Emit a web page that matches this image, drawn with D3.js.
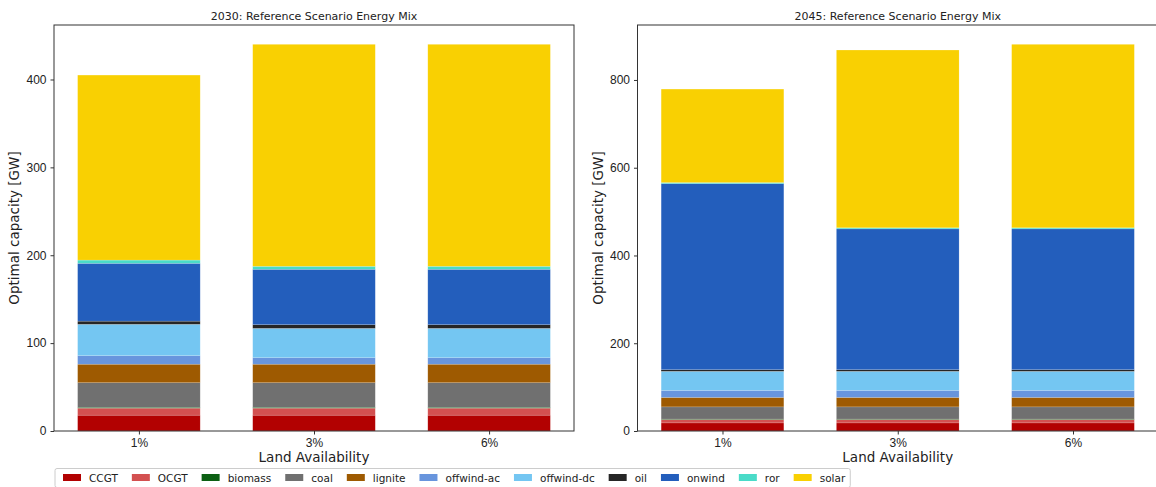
<!DOCTYPE html>
<html>
<head>
<meta charset="utf-8">
<script src="https://cdn.jsdelivr.net/npm/d3@7"></script>
<style>
  body { margin: 0; background: #fff; }
  svg { font-family: "DejaVu Sans", sans-serif; display: block; }
  .tick text { font-size: 12px; fill: #222; }
  .tick line, .domain { stroke: #333; }
</style>
</head>
<body>
<script>
// Land availability scenarios (x categories)
var scenarios = ["1%", "3%", "6%"];

// Carriers, bottom to top of each stack
var carriers = ["CCGT", "OCGT", "biomass", "coal", "lignite", "offwind-ac", "offwind-dc", "oil", "onwind", "ror", "solar"];
var carrierColors = ["#b20101", "#d35050", "#0c6013", "#707070", "#9e5a01", "#6895dd", "#74c6f2", "#262626", "#235ebc", "#4adbc8", "#f9d002"];

// Optimal capacity [GW] per carrier, 2030
var mix2030_1 = [18, 8, 1, 28, 21, 9.7, 35.7, 3.6, 65.8, 3.7, 210.5];
var mix2030_3 = [18, 8, 1, 28, 21, 7.4, 33.4, 4.2, 63, 3.4, 252.6];
var mix2030_6 = [18, 8, 1, 28, 21, 7.4, 33.4, 4.2, 63, 3.4, 252.6];

// Optimal capacity [GW] per carrier, 2045
var mix2045_1 = [18.5, 7.5, 1.2, 27.8, 21.5, 16, 43.5, 3.7, 424, 2.5, 213];
var mix2045_3 = [18.5, 7.5, 1.2, 27.8, 21.5, 16, 43.5, 3.7, 321, 2.5, 405];
var mix2045_6 = [18.5, 7.5, 1.2, 27.8, 21.5, 16, 43.5, 3.7, 321, 2.5, 418];

var svgWidth = 1156;
var svgHeight = 487;

var svg = d3.select("body")
  .append("svg")
  .attr("width", svgWidth)
  .attr("height", svgHeight);

svg.append("rect")
  .attr("width", svgWidth)
  .attr("height", svgHeight)
  .attr("fill", "#fff");

var colorScale = d3.scaleOrdinal().domain(carriers).range(carrierColors);

// build rows for d3.stack from the arrays
function buildRows(arrays) {
  return arrays.map(function(vals, i) {
    var row = { scenario: scenarios[i] };
    carriers.forEach(function(c, j) { row[c] = vals[j]; });
    return row;
  });
}

var panels = [
  { title: "2030: Reference Scenario Energy Mix", rows: buildRows([mix2030_1, mix2030_3, mix2030_6]), left: 54, right: 574 },
  { title: "2045: Reference Scenario Energy Mix", rows: buildRows([mix2045_1, mix2045_3, mix2045_6]), left: 637.5, right: 1158 }
];

var plotTop = 25;
var plotBottom = 431;
var barWidth = 0.7;

var stack = d3.stack().keys(carriers);

panels.forEach(function(p) {
  var series = stack(p.rows);
  var maxTotal = d3.max(series[series.length - 1], d => d[1]);

  var xScale = d3.scaleLinear()
    .domain([-0.485, scenarios.length - 1 + 0.485])
    .range([p.left, p.right]);

  var yScale = d3.scaleLinear()
    .domain([0, maxTotal * 1.05])
    .range([plotBottom, plotTop]);

  var g = svg.append("g");

  // stacked bars
  g.selectAll("g.layer")
    .data(series)
    .enter()
    .append("g")
    .attr("class", "layer")
    .attr("fill", d => colorScale(d.key))
    .selectAll("rect")
    .data(d => d)
    .enter()
    .append("rect")
    .attr("x", (d, i) => xScale(i - barWidth / 2))
    .attr("width", (d, i) => xScale(i + barWidth / 2) - xScale(i - barWidth / 2))
    .attr("y", d => yScale(d[1]))
    .attr("height", d => yScale(d[0]) - yScale(d[1]))
    .attr("stroke", "#ffffff")
    .attr("stroke-opacity", 0.25)
    .attr("stroke-width", 0.6);

  // frame
  g.append("rect")
    .attr("x", p.left)
    .attr("y", plotTop)
    .attr("width", p.right - p.left)
    .attr("height", plotBottom - plotTop)
    .attr("fill", "none")
    .attr("stroke", "#333")
    .attr("stroke-width", 1);

  // axes
  var bottomAxis = d3.axisBottom(xScale)
    .tickValues(d3.range(scenarios.length))
    .tickFormat(i => scenarios[i])
    .tickSizeOuter(0)
    .tickSize(3.5)
    .tickPadding(4);
  var leftAxis = d3.axisLeft(yScale)
    .ticks(5)
    .tickSizeOuter(0)
    .tickSize(3.5)
    .tickPadding(4);

  g.append("g")
    .attr("transform", `translate(0, ${plotBottom})`)
    .call(bottomAxis)
    .call(a => a.select(".domain").remove());

  g.append("g")
    .attr("transform", `translate(${p.left}, 0)`)
    .call(leftAxis)
    .call(a => a.select(".domain").remove());

  // title
  g.append("text")
    .attr("x", (p.left + p.right) / 2)
    .attr("y", 20)
    .attr("text-anchor", "middle")
    .attr("font-size", "11px")
    .attr("fill", "#222")
    .text(p.title);

  // axis titles
  g.append("text")
    .attr("x", (p.left + p.right) / 2)
    .attr("y", 462)
    .attr("text-anchor", "middle")
    .attr("font-size", "13.5px")
    .attr("fill", "#222")
    .text("Land Availability");

  g.append("text")
    .attr("transform", `translate(${p.left - 35}, ${(plotTop + plotBottom) / 2}) rotate(270)`)
    .attr("text-anchor", "middle")
    .attr("font-size", "13.5px")
    .attr("fill", "#222")
    .text("Optimal capacity [GW]");
});

// legend along the bottom
var legend = svg.append("g");
var legendFrame = legend.append("rect")
  .attr("y", 468.5)
  .attr("height", 19)
  .attr("rx", 2)
  .attr("fill", "#fff")
  .attr("stroke", "#ccc")
  .attr("stroke-width", 1);

var lx = 63;
var lastEnd = lx;
carriers.forEach(function(c) {
  legend.append("rect")
    .attr("x", lx)
    .attr("y", 474)
    .attr("width", 18)
    .attr("height", 7)
    .attr("fill", colorScale(c));
  var t = legend.append("text")
    .attr("x", lx + 26)
    .attr("y", 481.5)
    .attr("font-size", "10.5px")
    .attr("fill", "#222")
    .text(c);
  lastEnd = lx + 26 + t.node().getComputedTextLength();
  lx = lastEnd + 14;
});
legendFrame.attr("x", 55).attr("width", lastEnd + 5 - 55);
</script>
</body>
</html>
